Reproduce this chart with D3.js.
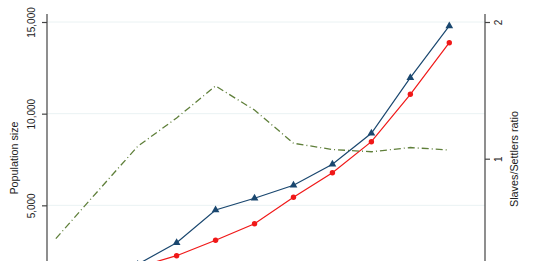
<!DOCTYPE html>
<html>
<head>
<meta charset="utf-8">
<script src="https://cdn.jsdelivr.net/npm/d3@7"></script>
<style>
  body { margin: 0; background: #fff; }
  svg { display: block; font-family: "Liberation Sans", Arial, sans-serif; }
</style>
</head>
<body>
<svg width="533" height="261"></svg>
<script>
// years of each observation (x axis is not shown in the crop)
var years = [1689, 1700, 1710, 1720, 1730, 1740, 1750, 1760, 1770, 1780, 1790];
// slaves (navy triangles) and settlers (red circles)
var slaves = [415, 925, 1780, 2962, 4746, 5384, 6093, 7239, 8930, 11963, 14783];
var settlers = [1000, 1200, 1630, 2253, 3093, 3999, 5439, 6780, 8472, 11057, 13872];
// slaves / settlers ratio, right axis
var ratio = [0.415, 0.77, 1.09, 1.298, 1.532, 1.356, 1.113, 1.067, 1.051, 1.082, 1.063];
var leftTicks = [5000, 10000, 15000];
var rightTicks = [1, 2];

var svg = d3.select('svg');
var left = 47, right = 485;

var x = d3.scaleLinear().domain([1700, 1790]).range([98.7, 449.3]);
var yPop = d3.scaleLinear().domain([0, 15000]).range([297, 22]);
var yRatio = d3.scaleLinear().domain([0, 2]).range([295.4, 22]);

// gridlines
svg.append('g').selectAll('line').data(leftTicks)
  .enter().append('line')
  .attr('x1', left).attr('x2', right)
  .attr('y1', function(d) { return yPop(d) })
  .attr('y2', function(d) { return yPop(d) })
  .style('stroke', '#eaf2f3')
  .style('stroke-width', 1);

// left axis
var leftAxis = svg.append('g').attr('transform', 'translate(' + left + ',0)')
  .call(d3.axisLeft(yPop).tickValues(leftTicks).tickSize(5).tickFormat(d3.format(',')));
leftAxis.select('.domain').remove();
leftAxis.append('line').attr('x1', 0).attr('x2', 0).attr('y1', 14).attr('y2', 261)
  .style('stroke', '#444').style('stroke-width', 1.2);
leftAxis.selectAll('.tick line').style('stroke', '#444').style('stroke-width', 1.2);
leftAxis.selectAll('.tick text')
  .attr('x', 0).attr('dy', null)
  .attr('transform', 'translate(-12,0) rotate(-90)')
  .style('text-anchor', 'middle')
  .style('font-size', '10px')
  .style('font-family', '"Liberation Sans", Arial, sans-serif')
  .style('fill', '#222');

// right axis
var rightAxis = svg.append('g').attr('transform', 'translate(' + right + ',0)')
  .call(d3.axisRight(yRatio).tickValues(rightTicks).tickSize(5).tickFormat(d3.format('d')));
rightAxis.select('.domain').remove();
rightAxis.append('line').attr('x1', 0).attr('x2', 0).attr('y1', 14).attr('y2', 261)
  .style('stroke', '#444').style('stroke-width', 1.2);
rightAxis.selectAll('.tick line').style('stroke', '#444').style('stroke-width', 1.2);
rightAxis.selectAll('.tick text')
  .attr('x', 0).attr('dy', null)
  .attr('transform', 'translate(17,0) rotate(-90)')
  .style('text-anchor', 'middle')
  .style('font-size', '10px')
  .style('font-family', '"Liberation Sans", Arial, sans-serif')
  .style('fill', '#222');

// axis titles
svg.append('text')
  .attr('transform', 'translate(18,158) rotate(-90)')
  .style('text-anchor', 'middle')
  .style('font-size', '10.8px')
  .style('fill', '#222')
  .text('Population size');
svg.append('text')
  .attr('transform', 'translate(518,159) rotate(-90)')
  .style('text-anchor', 'middle')
  .style('font-size', '10.8px')
  .style('fill', '#222')
  .text('Slaves/Settlers ratio');

var popLine = d3.line()
  .x(function(d, i) { return x(years[i]) })
  .y(function(d) { return yPop(d) });
var ratioLine = d3.line()
  .x(function(d, i) { return x(years[i]) })
  .y(function(d) { return yRatio(d) });

// slaves
svg.append('path').datum(slaves)
  .attr('d', popLine)
  .style('fill', 'none').style('stroke', '#1a476f').style('stroke-width', 1.2);
svg.append('g').selectAll('path').data(slaves)
  .enter().append('path')
  .attr('d', d3.symbol().type(d3.symbolTriangle).size(26))
  .attr('transform', function(d, i) { return 'translate(' + x(years[i]) + ',' + yPop(d) + ')' })
  .style('fill', '#1a476f');

// settlers
svg.append('path').datum(settlers)
  .attr('d', popLine)
  .style('fill', 'none').style('stroke', '#f01818').style('stroke-width', 1.2);
svg.append('g').selectAll('circle').data(settlers)
  .enter().append('circle')
  .attr('cx', function(d, i) { return x(years[i]) })
  .attr('cy', function(d) { return yPop(d) })
  .attr('r', 2.7)
  .style('fill', '#f01818');

// ratio, dash-dot
svg.append('path').datum(ratio)
  .attr('d', ratioLine)
  .style('fill', 'none')
  .style('stroke', '#5f7f3a')
  .style('stroke-width', 1.3)
  .style('stroke-dasharray', '7,3,1,3');
</script>
</body>
</html>
